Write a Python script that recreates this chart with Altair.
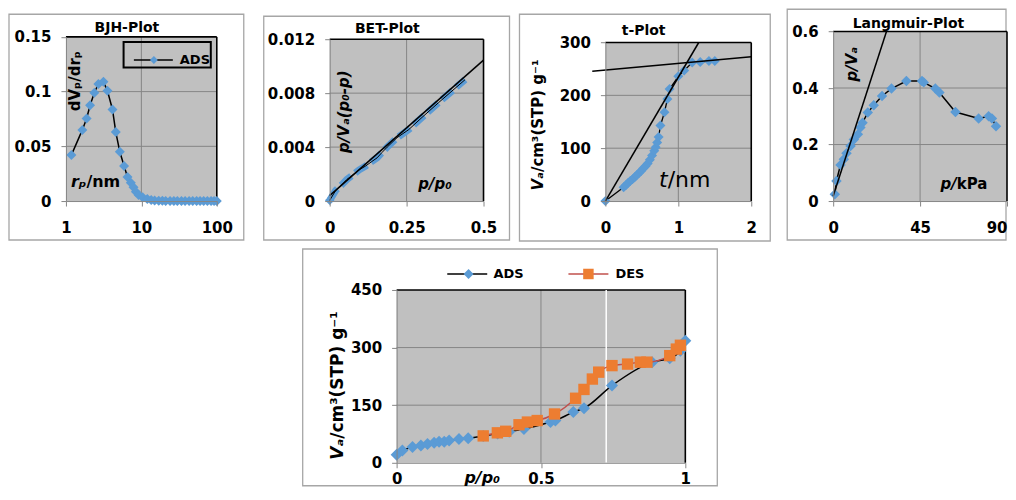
import altair as alt
import pandas as pd

FONT = "DejaVu Sans"
BLUE = "#5B9BD5"
ORANGE = "#ED7D31"
DESRED = "#C0504D"
BG = "#C0C0C0"
GRID = "#868686"
FRAME = "#A6A6A6"

# ---------------- data ----------------
bjh_r = [1.18, 1.65, 1.88, 2.09, 2.38, 2.69, 3.14, 3.55, 4.14, 4.58, 5.18, 5.9, 6.55, 7.25,
         7.87, 8.45, 9.2, 10.4, 12.0, 13.5, 15, 17, 19, 21, 24, 27, 30, 34, 38, 43, 48, 54,
         60, 67, 75, 84, 92, 100]
bjh_v = [0.042, 0.065, 0.0755, 0.0876, 0.099, 0.107, 0.109, 0.1007, 0.0837, 0.063, 0.045,
         0.032, 0.022, 0.0167, 0.0125, 0.0085, 0.0055, 0.0034, 0.0018, 0.001, 0.0005, 0.0003,
         0.0002, 0.0001, 0, 0, 0, 0, 0, 0, 0, 0, 0, 0, 0, 0, 0, 0]

bet_x = [0.0, 0.02, 0.039, 0.056, 0.073, 0.095, 0.117, 0.135, 0.154, 0.17, 0.187, 0.219,
         0.257, 0.3, 0.354, 0.44]
bet_y = [0.00005, 0.0008, 0.0012, 0.0016, 0.0019, 0.0023, 0.0026, 0.0029, 0.0032, 0.0036,
         0.004, 0.0047, 0.0053, 0.0062, 0.0073, 0.009]
bet_fit_x = [0.0, 0.5]
bet_fit_y = [0.0004, 0.01045]

t_t = [0.0, 0.25, 0.28, 0.31, 0.34, 0.37, 0.40, 0.43, 0.46, 0.49, 0.52, 0.55, 0.58, 0.61,
       0.64, 0.67, 0.69, 0.71, 0.73, 0.755, 0.81, 0.85, 0.88, 1.0, 1.08, 1.19, 1.3, 1.42, 1.5]
t_v = [0, 26, 30, 34, 38, 41, 45, 49, 53, 57, 62, 66, 71, 78, 86, 95, 102, 111, 121, 143,
       168, 193, 212, 236, 247, 262, 263, 265, 265]
t_fit1_x = [0.0, 1.28]
t_fit1_y = [0, 300]
t_fit2_x = [-0.18, 2.0]
t_fit2_y = [245.5, 273]

lang_p = [0.86, 1.7, 3.8, 5.5, 6.9, 9, 10.7, 12.8, 14.1, 15.2, 17.9, 21, 25.3, 30.2, 37.9,
          46, 46.9, 52.9, 55, 63.3, 75.3, 80.5, 82.2, 84.3]
lang_v = [0.024, 0.071, 0.128, 0.148, 0.169, 0.195, 0.218, 0.236, 0.26, 0.277, 0.313, 0.339,
          0.372, 0.398, 0.425, 0.425, 0.42, 0.398, 0.384, 0.315, 0.292, 0.3, 0.292, 0.265]
lang_fit_x = [0.0, 27.6]
lang_fit_y = [0.0177, 0.6]

ads_p = [0.0, 0.02, 0.055, 0.084, 0.107, 0.13, 0.147, 0.165, 0.182, 0.216, 0.248, 0.30, 0.35,
         0.39, 0.441, 0.533, 0.55, 0.612, 0.649, 0.746, 0.885, 0.946, 0.983, 1.0]
ads_v = [21, 32, 41, 45, 49, 52, 55, 55, 58, 62, 64, 70, 76, 81, 88, 106, 110, 132, 142, 201,
         262, 272, 292, 318]
des_p = [0.30, 0.349, 0.378, 0.424, 0.453, 0.487, 0.547, 0.62, 0.649, 0.678, 0.70, 0.746,
         0.80, 0.844, 0.867, 0.946, 0.969, 0.983]
des_v = [70, 78, 82, 99, 106, 110, 127, 168, 191, 218, 236, 253, 257, 262, 262, 279, 296, 306]

marker_line_p = [0.726]

ONE = pd.DataFrame({"k": [0]})
LABEL_EXPR = "toString(datum.value)"


def build_panel(cfg):
    xs = cfg["xscale"]
    ys = cfg["yscale"]
    lab = cfg["label_size"]
    xaxis = alt.Axis(values=cfg["xticks"], grid=False, title=None, domainColor=GRID,
                     tickColor=GRID, tickSize=5, labelFont=FONT, labelFontWeight="bold",
                     labelFontSize=lab, labelColor="black", labelPadding=cfg["xpad"],
                     labelFlush=False, labelOverlap=False, labelExpr=LABEL_EXPR, zindex=1,
                     labelAlign=cfg.get("xalign", "center"))
    yaxis = alt.Axis(values=cfg["yticks"], grid=False, title=None, domainColor=GRID,
                     tickColor=GRID, tickSize=5, labelFont=FONT, labelFontWeight="bold",
                     labelFontSize=lab, labelColor="black", labelPadding=cfg["ypad"],
                     labelFlush=False, labelOverlap=False, labelExpr=LABEL_EXPR, zindex=1,
                     offset=cfg.get("yoffset", 0))

    def X(f):
        return alt.X(f, type="quantitative", scale=xs, axis=xaxis)

    def Y(f):
        return alt.Y(f, type="quantitative", scale=ys, axis=yaxis)

    x0, x1 = cfg["xdom"]
    y0, y1 = cfg["ydom"]
    box = pd.DataFrame({"x0": [x0], "x1": [x1], "y0": [y0], "y1": [y1]})
    layers = []
    fx = cfg["frame"]
    layers.append(alt.Chart(ONE).mark_rect(fill="white", stroke=FRAME, strokeWidth=1.3).encode(
        x=alt.value(fx[0]), x2=alt.value(fx[1]), y=alt.value(fx[2]), y2=alt.value(fx[3])))
    layers.append(alt.Chart(box).mark_rect(fill=BG).encode(
        x=X("x0"), x2=alt.X2("x1"), y=Y("y0"), y2=alt.Y2("y1")))
    vg = pd.DataFrame({"g": cfg["xgrid"], "y0": y0, "y1": y1})
    hg = pd.DataFrame({"g": cfg["ygrid"], "x0": x0, "x1": x1})
    layers.append(alt.Chart(vg).mark_rule(color=GRID, strokeWidth=1).encode(
        x=X("g"), y=Y("y0"), y2=alt.Y2("y1")))
    layers.append(alt.Chart(hg).mark_rule(color=GRID, strokeWidth=1).encode(
        y=Y("g"), x=X("x0"), x2=alt.X2("x1")))
    layers.append(alt.Chart(box).mark_rule(color="black", strokeWidth=1.6).encode(
        x=X("x0"), x2=alt.X2("x1"), y=Y("y1")))
    layers.append(alt.Chart(box).mark_rule(color="black", strokeWidth=1.6).encode(
        x=X("x1"), y=Y("y0"), y2=alt.Y2("y1")))
    for item in cfg["series"]:
        kind = item["kind"]
        if kind == "vrule":
            layers.append(alt.Chart(pd.DataFrame({"g": item["x"], "y0": y0, "y1": y1}))
                          .mark_rule(**item["style"]).encode(x=X("g"), y=Y("y0"), y2=alt.Y2("y1")))
            continue
        df = pd.DataFrame({"x": item["x"], "y": item["y"], "o": list(range(len(item["x"])))})
        if kind == "line":
            layers.append(alt.Chart(df).mark_line(clip=False, **item["style"]).encode(
                x=X("x"), y=Y("y"), order="o:Q"))
        elif kind == "point":
            layers.append(alt.Chart(df).mark_point(filled=True, opacity=1, **item["style"]).encode(
                x=X("x"), y=Y("y")))
    for t in cfg["texts"]:
        txt, px, py, style = t
        layers.append(alt.Chart(ONE).mark_text(text=txt, font=FONT, color="black", **style).encode(
            x=alt.value(px), y=alt.value(py)))
    for d in cfg.get("deco", []):
        layers.append(d)
    return alt.layer(*layers).properties(width=cfg["W"], height=cfg["H"])


B = {"fontWeight": "bold"}
BI = {"fontWeight": "bold", "fontStyle": "italic"}

# BJH
bjh = dict(
    W=264, H=170, label_size=15, xpad=14, ypad=10,
    xscale=alt.Scale(type="log", domain=[1, 100], range=[0, 151]),
    yscale=alt.Scale(domain=[0, 0.15], range=[170, 5.7], nice=False, zero=False),
    xdom=[1, 100], ydom=[0, 0.15], xticks=[1, 10, 100], yticks=[0, 0.05, 0.1, 0.15],
    xgrid=[10], ygrid=[0.05, 0.1], frame=[-57, 178, -17, 209],
    series=[
        {"kind": "line", "x": bjh_r, "y": bjh_v, "style": {"color": "black", "strokeWidth": 1.5}},
        {"kind": "point", "x": bjh_r, "y": bjh_v, "style": {"shape": "diamond", "size": 100, "color": BLUE}},
    ],
    texts=[
        ("BJH-Plot", 61, 0.7, dict(fontSize=14, align="center", baseline="alphabetic", **B)),
        ("dVₚ/drₚ", 14, 50, dict(fontSize=15, align="center", baseline="alphabetic", angle=270, **B)),
        ("rₚ", 20.5, 156, dict(fontSize=16, align="right", baseline="alphabetic", **BI)),
        ("/nm", 20.5, 156, dict(fontSize=16, align="left", baseline="alphabetic", **B)),
        ("ADS", 114, 29, dict(fontSize=13, align="left", baseline="middle", **B)),
    ],
    deco=[
        alt.Chart(ONE).mark_rect(fill="transparent", stroke="black", strokeWidth=2).encode(
            x=alt.value(57.7), x2=alt.value(145), y=alt.value(10.7), y2=alt.value(36.3)),
        alt.Chart(ONE).mark_rule(color="black", strokeWidth=1.5).encode(
            x=alt.value(68), x2=alt.value(107), y=alt.value(28.7)),
        alt.Chart(ONE).mark_point(shape="diamond", filled=True, opacity=1, size=64, color=BLUE).encode(
            x=alt.value(88), y=alt.value(28.7)),
    ],
)

# BET
bet = dict(
    W=276, H=170, label_size=15, xpad=14, ypad=10,
    xscale=alt.Scale(domain=[0, 0.5], range=[0, 154], nice=False, zero=False),
    yscale=alt.Scale(domain=[0, 0.012], range=[170, 8], nice=False, zero=False),
    xdom=[0, 0.5], ydom=[0, 0.012], xticks=[0, 0.25, 0.5], yticks=[0, 0.004, 0.008, 0.012],
    xgrid=[0.25], ygrid=[0.004, 0.008], frame=[-66, 180, -15, 209],
    series=[
        {"kind": "line", "x": bet_x, "y": bet_y, "style": {"color": BLUE, "strokeWidth": 7, "strokeDash": [14, 5]}},
        {"kind": "point", "x": bet_x[:1], "y": bet_y[:1], "style": {"shape": "diamond", "size": 90, "color": BLUE}},
        {"kind": "line", "x": bet_x, "y": bet_y, "style": {"color": "black", "strokeWidth": 1}},
        {"kind": "line", "x": bet_fit_x, "y": bet_fit_y, "style": {"color": "black", "strokeWidth": 1.5}},
    ],
    texts=[
        ("BET-Plot", 57.7, 1.3, dict(fontSize=14, align="center", baseline="alphabetic", **B)),
        ("p/Vₐ(p₀-p)", 19, 80.5, dict(fontSize=15, align="center", baseline="alphabetic", angle=270, **BI)),
        ("p/p₀", 105.5, 158, dict(fontSize=15, align="center", baseline="alphabetic", **BI)),
    ],
)

# t-plot
tplot = dict(
    W=228, H=170, label_size=15, xpad=14, ypad=10,
    xscale=alt.Scale(domain=[0, 2], range=[0, 146], nice=False, zero=False),
    yscale=alt.Scale(domain=[0, 300], range=[170, 11.3], nice=False, zero=False),
    xdom=[0, 2], ydom=[0, 300], xticks=[0, 1, 2], yticks=[0, 100, 200, 300],
    xgrid=[1], ygrid=[100, 200], frame=[-86, 165, -17, 210],
    series=[
        {"kind": "line", "x": t_t, "y": t_v, "style": {"color": "black", "strokeWidth": 1.3}},
        {"kind": "point", "x": t_t, "y": t_v, "style": {"shape": "diamond", "size": 100, "color": BLUE}},
        {"kind": "line", "x": t_fit1_x, "y": t_fit1_y, "style": {"color": "black", "strokeWidth": 1.5}},
        {"kind": "line", "x": t_fit2_x, "y": t_fit2_y, "style": {"color": "black", "strokeWidth": 1.5}},
    ],
    texts=[
        ("t-Plot", 38.3, 4, dict(fontSize=14, align="center", baseline="alphabetic", **B)),
        ("t", 62.3, 156, dict(fontSize=22, align="right", baseline="alphabetic", fontStyle="italic")),
        ("/nm", 62.3, 156, dict(fontSize=22, align="left", baseline="alphabetic")),
        ("Vₐ", -62, 141, dict(fontSize=15, align="right", baseline="alphabetic", angle=270, **BI)),
        ("/cm³(STP) g⁻¹", -62, 141, dict(fontSize=15, align="left", baseline="alphabetic", angle=270, **B)),
    ],
)

# Langmuir
lang = dict(
    W=174, H=170, label_size=15, xpad=14, ypad=10,
    xalign={"expr": "datum.value >= 90 ? 'right' : 'center'"},
    xscale=alt.Scale(domain=[0, 90], range=[0, 174], nice=False, zero=False),
    yscale=alt.Scale(domain=[0, 0.6], range=[170, 0.3], nice=False, zero=False),
    xdom=[0, 90], ydom=[0, 0.6], xticks=[0, 45, 90], yticks=[0, 0.2, 0.4, 0.6],
    xgrid=[45], ygrid=[0.2, 0.4], frame=[-46, 173, -22, 209],
    series=[
        {"kind": "line", "x": lang_p, "y": lang_v, "style": {"color": "black", "strokeWidth": 1.5}},
        {"kind": "point", "x": lang_p, "y": lang_v, "style": {"shape": "diamond", "size": 110, "color": BLUE}},
        {"kind": "line", "x": lang_fit_x, "y": lang_fit_y, "style": {"color": "black", "strokeWidth": 1.5}},
    ],
    texts=[
        ("Langmuir-Plot", 75.3, -3.7, dict(fontSize=14, align="center", baseline="alphabetic", **B)),
        ("p/Vₐ", 23.7, 33, dict(fontSize=15, align="center", baseline="alphabetic", angle=270, **BI)),
        ("p/", 123.7, 158, dict(fontSize=15, align="right", baseline="alphabetic", **BI)),
        ("kPa", 123.7, 158, dict(fontSize=15, align="left", baseline="alphabetic", **B)),
    ],
)

# Isotherm
iso = dict(
    W=264, H=173, label_size=15, xpad=4, ypad=10, yoffset=-331,
    xscale=alt.Scale(domain=[0, 1], range=[331, 620], nice=False, zero=False),
    yscale=alt.Scale(domain=[0, 450], range=[173, 0], nice=False, zero=False),
    xdom=[0, 1], ydom=[0, 450], xticks=[0, 0.5, 1], yticks=[0, 150, 300, 450],
    xgrid=[0.5], ygrid=[150, 300], frame=[237, 652, -41, 196],
    series=[
        {"kind": "vrule", "x": marker_line_p, "style": {"color": "white", "strokeWidth": 1.5}},
        {"kind": "line", "x": ads_p, "y": ads_v, "style": {"color": "black", "strokeWidth": 1.5, "interpolate": "monotone"}},
        {"kind": "point", "x": ads_p, "y": ads_v, "style": {"shape": "diamond", "size": 144, "color": BLUE}},
        {"kind": "line", "x": des_p, "y": des_v, "style": {"color": DESRED, "strokeWidth": 1.5, "interpolate": "monotone"}},
        {"kind": "point", "x": des_p, "y": des_v, "style": {"shape": "square", "size": 130, "color": ORANGE}},
    ],
    texts=[
        ("Vₐ", 277, 149, dict(fontSize=17, align="right", baseline="alphabetic", angle=270, **BI)),
        ("/cm³(STP) g⁻¹", 277, 149, dict(fontSize=17, align="left", baseline="alphabetic", angle=270, **B)),
        ("p/p₀", 416.7, 193.5, dict(fontSize=16, align="center", baseline="alphabetic", **BI)),
        ("ADS", 428, -16, dict(fontSize=13, align="left", baseline="middle", **B)),
        ("DES", 550, -16, dict(fontSize=13, align="left", baseline="middle", **B)),
    ],
    deco=[
        alt.Chart(ONE).mark_rule(color="black", strokeWidth=1.5).encode(
            x=alt.value(381.7), x2=alt.value(421.7), y=alt.value(-16)),
        alt.Chart(ONE).mark_point(shape="diamond", filled=True, opacity=1, size=100, color=BLUE).encode(
            x=alt.value(403), y=alt.value(-16)),
        alt.Chart(ONE).mark_rule(color=DESRED, strokeWidth=1.5).encode(
            x=alt.value(503), x2=alt.value(543), y=alt.value(-16)),
        alt.Chart(ONE).mark_point(shape="square", filled=True, opacity=1, size=110, color=ORANGE).encode(
            x=alt.value(523), y=alt.value(-16)),
    ],
)

panels = [build_panel(c) for c in (bjh, bet, tplot, lang, iso)]

chart = alt.concat(*panels, columns=4, spacing={"row": 89, "column": 0},
                   bounds="flush", align="each").properties(
    padding={"left": 0, "top": 0, "right": 0, "bottom": 0}
).configure_view(stroke=None, fill=None)

chart.save("out.html", embed_options={"renderer": "svg", "actions": False})
